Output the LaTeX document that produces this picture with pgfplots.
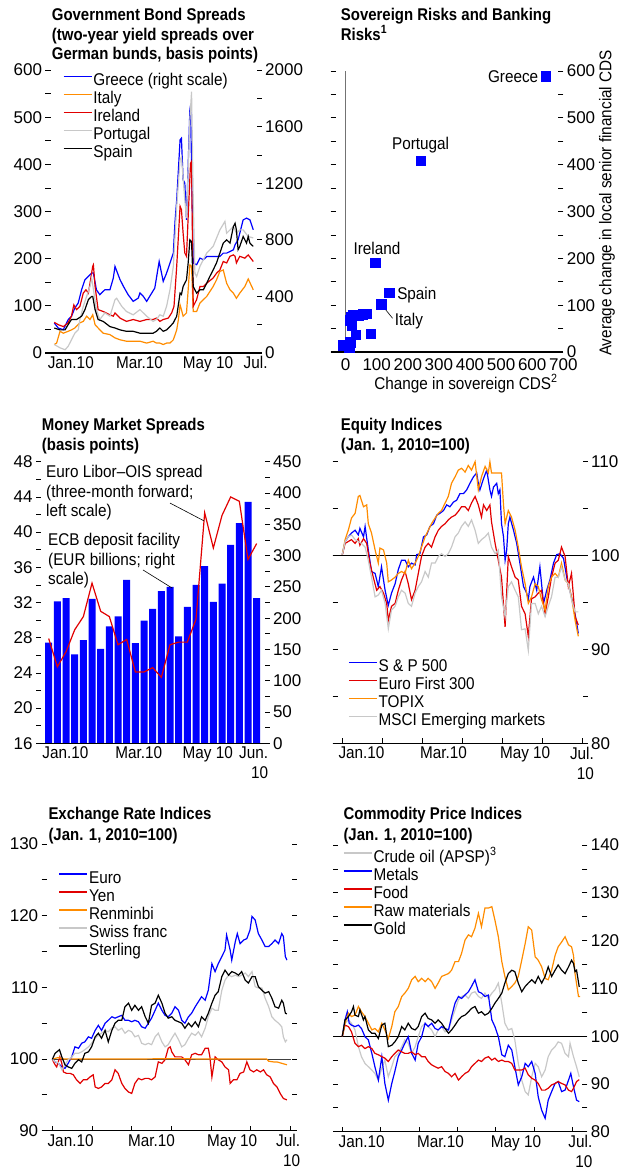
\documentclass[border=0pt]{standalone}
\usepackage{pgfplots}
\pgfplotsset{compat=1.18}
\usepackage{fontspec}
\setmainfont{Liberation Sans}[FakeStretch=0.9]
\newfontfamily\numfont{Liberation Sans}
\newfontfamily\titlefont{Liberation Sans}[FakeStretch=0.88]
\newcommand\fs{\fontsize{17bp}{18bp}\selectfont}
\newcommand\fsx{\fontsize{17bp}{20bp}\selectfont}
\definecolor{cblue}{RGB}{0,0,255}
\definecolor{corange}{RGB}{255,140,0}
\definecolor{cred}{RGB}{225,0,0}
\definecolor{cgray}{RGB}{200,200,200}
\tikzset{bline/.style={black, line width=1.2bp}}
\pgfplotsset{
 imf/.style={
  scale only axis, anchor=south west, clip=false,
  axis line style={draw=none},
  tick align=inside, major tick length=5bp, minor tick length=5bp,
  tick style={black, line width=0.8bp},
  /pgf/number format/assume math mode=true,
  /pgf/number format/1000 sep={},
  scaled ticks=false,
  yticklabel style={font=\numfont\fs},
  xticklabel style={font=\fsx, align=center},
  major x tick style={draw=none},
  xtick pos=left,
  every axis plot/.append style={line width=1.2bp},
  legend style={draw=none, fill=none, font=\fs, inner sep=0pt, row sep=0pt,
     cells={anchor=west}, nodes={inner sep=0pt, inner xsep=1bp, text height=12.5bp, text depth=5.5bp}},
  legend image code/.code={\draw[##1, line width=1.4bp] (0bp,5.5bp) -- (28bp,5.5bp);},
 },
}
\begin{document}
\begin{tikzpicture}
\path[use as bounding box] (0,0) rectangle (623bp,-1174bp);
% ---------------- Titles
\begin{scope}[every node/.style={anchor=base west, font=\titlefont\bfseries\fs, inner sep=0pt}]
\node at (51.7bp,-20.7bp) {Government Bond Spreads};
\node at (51.7bp,-40bp) {(two-year yield spreads over};
\node at (51.7bp,-59.3bp) {German bunds, basis points)};
\node at (340.7bp,-20.7bp) {Sovereign Risks and Banking};
\node at (340.7bp,-40bp) {Risks\textsuperscript{1}};
\node at (41.7bp,-430.7bp) {Money Market Spreads};
\node at (41.7bp,-450bp) {(basis points)};
\node at (340.7bp,-430.7bp) {Equity Indices};
\node at (340.7bp,-450bp) {(Jan. 1, 2010=100)};
\node at (48.3bp,-819.3bp) {Exchange Rate Indices};
\node at (48.3bp,-840bp) {(Jan. 1, 2010=100)};
\node at (343.3bp,-819.3bp) {Commodity Price Indices};
\node at (343.3bp,-840bp) {(Jan. 1, 2010=100)};
\end{scope}

% ---------------- Panel 1: left scale (data)
\begin{axis}[imf, at={(45.5bp,-353bp)}, width=216.2bp, height=283bp,
  xmin=-0.26, xmax=6.15, ymin=0, ymax=600,
  xtick={0.49,2.53,4.56,5.97}, xticklabels={Jan.10,Mar.10,May 10,Jul.},
  ytick={0,100,...,600}, minor ytick={50,150,...,550}, ytick pos=left]
\draw[bline] (rel axis cs:0,0) -- (rel axis cs:1,0);
% Greece values are on the right scale (0-2000); 600/2000 = 0.3 maps them onto this axis
\addplot[cblue, y filter/.expression={0.3*y}] coordinates {(0,212)(0.12,176)(0.27,165)(0.41,235)(0.51,259)(0.61,318)(0.71,353)(0.81,447)(0.91,518)(1.01,541)(1.11,565)(1.16,565)(1.25,447)(1.35,412)(1.50,447)(1.65,447)(1.75,529)(1.80,612)(1.95,518)(2.05,471)(2.19,412)(2.34,365)(2.49,388)(2.54,424)(2.64,400)(2.74,365)(2.89,424)(2.98,459)(3.11,647)(3.23,506)(3.33,565)(3.43,635)(3.53,706)(3.58,929)(3.63,1082)(3.73,1506)(3.77,1518)(3.82,1224)(3.87,1200)(3.92,941)(4.02,1718)(4.04,1750)(4.12,635)(4.22,624)(4.32,671)(4.42,659)(4.52,682)(4.71,682)(4.91,682)(5.01,706)(5.11,706)(5.31,729)(5.36,765)(5.45,800)(5.60,941)(5.70,953)(5.80,941)(5.90,871)};
\addplot[corange] coordinates {(0,18)(0.07,21)(0.17,46)(0.27,42)(0.41,46)(0.51,49)(0.61,53)(0.76,64)(0.86,67)(0.96,78)(1.06,71)(1.14,81)(1.21,60)(1.30,53)(1.45,42)(1.65,39)(1.80,32)(1.95,28)(2.14,25)(2.34,25)(2.54,25)(2.74,21)(2.93,25)(3.03,21)(3.13,21)(3.23,18)(3.33,21)(3.43,21)(3.53,28)(3.63,49)(3.68,71)(3.73,102)(3.77,92)(3.82,78)(3.92,85)(3.97,134)(4.02,187)(4.07,184)(4.12,88)(4.22,88)(4.32,106)(4.42,113)(4.52,120)(4.71,141)(4.81,155)(4.91,173)(5.01,176)(5.11,148)(5.21,134)(5.31,127)(5.40,116)(5.50,127)(5.65,141)(5.75,157)(5.90,134)};
\addplot[cred] coordinates {(0,65)(0.12,60)(0.27,56)(0.41,64)(0.51,78)(0.58,102)(0.66,92)(0.76,99)(0.86,127)(0.94,134)(1.01,127)(1.06,148)(1.14,184)(1.16,187)(1.21,141)(1.30,92)(1.45,88)(1.65,81)(1.75,78)(1.80,85)(1.95,74)(2.14,67)(2.34,71)(2.54,67)(2.74,71)(2.93,71)(3.03,74)(3.13,67)(3.23,71)(3.38,74)(3.48,85)(3.55,99)(3.63,184)(3.73,311)(3.77,304)(3.82,254)(3.87,212)(3.92,205)(3.97,289)(4.04,402)(4.07,406)(4.12,99)(4.22,113)(4.32,141)(4.42,141)(4.52,148)(4.71,159)(4.81,169)(4.91,176)(5.01,194)(5.11,191)(5.21,205)(5.31,208)(5.36,205)(5.40,191)(5.50,205)(5.65,201)(5.75,208)(5.90,194)};
\addplot[cgray] coordinates {(0,18)(0.17,11)(0.32,7)(0.41,14)(0.51,28)(0.61,42)(0.71,49)(0.76,71)(0.86,99)(0.96,120)(1.06,141)(1.11,159)(1.25,92)(1.35,71)(1.50,85)(1.65,78)(1.80,113)(1.85,116)(2.00,99)(2.14,88)(2.34,81)(2.54,92)(2.74,78)(2.93,67)(3.03,71)(3.13,81)(3.23,78)(3.33,99)(3.43,134)(3.53,184)(3.63,311)(3.73,409)(3.77,416)(3.87,325)(3.92,286)(4.02,494)(4.07,554)(4.12,325)(4.17,169)(4.22,162)(4.32,184)(4.52,212)(4.71,226)(4.91,261)(5.06,279)(5.11,254)(5.21,261)(5.31,268)(5.40,254)(5.50,261)(5.60,261)(5.75,247)(5.90,244)};
\addplot[black] coordinates {(0,53)(0.17,49)(0.32,49)(0.41,60)(0.51,71)(0.66,71)(0.81,78)(0.91,92)(1.01,113)(1.11,120)(1.14,120)(1.21,92)(1.30,71)(1.45,67)(1.65,56)(1.80,53)(1.95,49)(2.14,46)(2.34,46)(2.54,42)(2.74,42)(2.93,42)(3.03,46)(3.13,53)(3.23,46)(3.33,49)(3.43,56)(3.53,64)(3.63,78)(3.73,127)(3.77,124)(3.82,141)(3.92,155)(3.97,191)(4.02,240)(4.07,236)(4.12,141)(4.22,127)(4.32,134)(4.42,134)(4.52,148)(4.61,162)(4.71,176)(4.81,191)(4.91,212)(5.01,233)(5.11,240)(5.21,233)(5.31,268)(5.36,275)(5.40,261)(5.45,219)(5.50,226)(5.60,247)(5.70,233)(5.75,247)(5.80,233)(5.90,226)};
\end{axis}
% ---------------- Panel 1: right scale (ticks, month ticks, legend)
\begin{axis}[imf, at={(45.5bp,-353bp)}, width=216.2bp, height=283bp,
  xmin=-0.26, xmax=6.15, ymin=0, ymax=2000, xtick=\empty,
  minor xtick={0,...,6}, minor x tick style={yshift=-5bp},
  ytick={0,400,...,2000}, minor ytick={200,600,...,1800}, ytick pos=right, yticklabel pos=right,
  legend style={at={(axis description cs:0.08,0.99)}, anchor=north west}]
\addlegendimage{color=cblue}\addlegendentry{Greece (right scale)}
\addlegendimage{color=corange}\addlegendentry{Italy}
\addlegendimage{color=cred}\addlegendentry{Ireland}
\addlegendimage{color=cgray}\addlegendentry{Portugal}
\addlegendimage{color=black}\addlegendentry{Spain}
\end{axis}

% ---------------- Panel 2: scatter
\begin{axis}[imf, at={(330.7bp,-352bp)}, width=232.6bp, height=281bp,
  xmin=-48, xmax=700, ymin=0, ymax=600,
  xtick={0,100,...,700}, xticklabel style={font=\numfont\fs, yshift=-3bp},
  ytick={0,100,...,600}, minor ytick={50,150,...,550}, ytick pos=both, yticklabel pos=right]
\draw[bline] (rel axis cs:0,0) -- (rel axis cs:1,0);
\draw[black!55, line width=1.2bp] (axis cs:0,0) -- (axis cs:0,600);
\addplot[only marks, mark=square*, mark size=4.8bp, mark options={fill=cblue, draw=cblue, line width=0.3bp}] coordinates {(643,589)(241,409)(94,191)(139,127)(114,102)(24.7,78.3)(54.7,80.4)(65.4,81.9)(13.9,67.6)(19.3,56.9)(32.2,37.0)(80.4,39.1)(11.8,10.7)(-7.5,14.2)(13.9,21.4)(40.7,78.3)(17.1,74.7)};
\node[font=\fs, anchor=east, inner sep=0pt] at (axis cs:620,589) {Greece};
\node[font=\fs, inner sep=0pt] at (axis cs:241,442) {Portugal};
\node[font=\fs, inner sep=0pt] at (axis cs:100.6,221) {Ireland};
\node[font=\fs, inner sep=0pt] at (axis cs:229,122) {Spain};
\node[font=\fs, inner sep=0pt] at (axis cs:203.5,66) {Italy};
\draw[black, line width=0.6bp] (axis cs:119,98.3) -- (axis cs:151,72);
\end{axis}
\node[font=\fs, anchor=base] at (466bp,-389bp) {Change in sovereign CDS\textsuperscript{2}};
\node[font=\fs, rotate=90] at (607bp,-203bp) {Average change in local senior financial CDS};

% ---------------- Panel 3: bars (right scale)
\begin{axis}[imf, at={(36bp,-743.3bp)}, width=233.5bp, height=281.6bp,
  xmin=-0.465, xmax=26.48, ymin=0, ymax=450, xtick=\empty,
  ytick={0,50,...,450}, minor ytick={25,75,...,425}, ytick pos=right, yticklabel pos=right]
\addplot[ybar, bar width=7bp, fill=cblue, draw=none] coordinates {(1,161)(2,227)(3,232)(4,142)(5,165)(6,231)(7,151)(8,187)(9,203)(10,261)(11,160)(12,196)(13,215)(14,243)(15,250)(16,171)(17,218)(18,253)(19,283)(20,226)(21,255)(22,317)(23,352)(24,386)(25,232)};
\end{axis}
\begin{axis}[imf, at={(36bp,-743.3bp)}, width=233.5bp, height=281.6bp,
  xmin=-0.465, xmax=26.48, ymin=16, ymax=48,
  xtick={2.92,11.38,19.35,24.65}, xticklabels={Jan.10,Mar.10,May 10,{Jun.\\10}},
  xticklabel style={align=right},
  ytick={16,20,...,48}, minor ytick={18,22,...,46}, ytick pos=left]
\draw[bline] (rel axis cs:0,0) -- (rel axis cs:1,0);
\addplot[cred] coordinates {(1,27.9)(2,24.7)(3,26.4)(4,28.9)(5,30.4)(6,34.2)(7,31.0)(8,30.4)(9,27.2)(10,27.8)(11,24.1)(12,24.1)(13,24.6)(14,23.5)(15,27.2)(16,27.5)(17,27.5)(18,30.1)(19,42.2)(20,38.2)(21,41.9)(22,44.0)(23,43.5)(24,36.9)(25,38.7)};
\draw[black, line width=0.6bp] (axis cs:15.0,43.3) -- (axis cs:18.92,41.28);
\draw[black, line width=0.6bp] (axis cs:11.88,35.7) -- (axis cs:15.23,33.65);
\end{axis}
\node[anchor=north west, align=left, inner sep=0pt, font=\fontsize{17bp}{19.5bp}\selectfont] at (46bp,-465bp) {Euro Libor–OIS spread\\(three-month forward;\\left scale)};
\node[anchor=north west, align=left, inner sep=0pt, font=\fontsize{17bp}{19.5bp}\selectfont] at (48bp,-533bp) {ECB deposit facility\\(EUR billions; right\\scale)};

% ---------------- Panel 4: equity
\begin{axis}[imf, at={(332.7bp,-743.3bp)}, width=255bp, height=281.6bp,
  xmin=-0.24, xmax=6.135, ymin=80, ymax=110,
  xtick={0.48,2.53,4.57,5.99}, xticklabels={Jan.10,Mar.10,May 10,{Jul.\\10}},
  xticklabel style={align=right},
  minor xtick={0,...,6},
  ytick={80,90,100,110}, minor ytick={85,95,105}, ytick pos=both, yticklabel pos=right,
  legend style={at={(axis description cs:0.06,0.30)}, anchor=north west}]
\draw[bline] (rel axis cs:0,0) -- (rel axis cs:1,0);
\draw[black, line width=1bp] (axis cs:-0.24,100) -- (axis cs:6.135,100);
\addplot[cblue] coordinates {(0,100.1)(0.07,101.5)(0.15,102.0)(0.23,102.4)(0.32,102.7)(0.40,102.2)(0.44,102.9)(0.53,102.0)(0.57,103.1)(0.65,100.6)(0.73,98.3)(0.82,98.1)(0.90,96.7)(0.98,98.8)(1.07,96.3)(1.15,94.7)(1.23,96.0)(1.32,97.0)(1.40,98.5)(1.48,99.5)(1.57,99.5)(1.65,98.8)(1.73,99.2)(1.82,99.0)(1.86,100.1)(1.94,100.2)(2.03,102.0)(2.11,102.2)(2.19,103.1)(2.28,103.4)(2.36,104.3)(2.44,104.5)(2.53,104.8)(2.61,105.4)(2.69,105.2)(2.78,105.7)(2.86,105.9)(2.94,106.6)(3.03,106.6)(3.11,107.0)(3.19,107.7)(3.28,108.4)(3.36,108.8)(3.40,107.7)(3.44,107.0)(3.53,108.2)(3.61,109.1)(3.69,107.0)(3.73,106.3)(3.78,107.3)(3.86,107.7)(3.90,106.6)(3.94,107.0)(3.98,103.4)(4.03,102.0)(4.07,99.5)(4.11,100.6)(4.15,103.4)(4.19,104.1)(4.28,102.7)(4.36,101.3)(4.44,99.2)(4.53,96.7)(4.61,96.0)(4.65,95.3)(4.69,96.7)(4.78,97.7)(4.86,96.3)(4.94,98.8)(5.03,94.9)(5.11,96.3)(5.19,97.4)(5.28,99.2)(5.36,100.1)(5.44,100.2)(5.53,99.7)(5.61,97.7)(5.69,96.3)(5.78,94.6)(5.86,92.8)(5.90,91.7)};
\addlegendentry{S \& P 500}
\addplot[cred] coordinates {(0,100.1)(0.07,101.3)(0.15,101.5)(0.23,101.7)(0.32,101.3)(0.40,101.8)(0.44,101.1)(0.53,101.8)(0.61,101.3)(0.69,99.2)(0.78,97.6)(0.86,96.3)(0.94,96.7)(1.03,96.0)(1.11,94.9)(1.15,93.1)(1.23,94.6)(1.32,94.9)(1.40,96.3)(1.48,97.4)(1.57,98.3)(1.65,97.0)(1.73,95.3)(1.82,96.3)(1.90,98.1)(1.98,99.9)(2.07,100.9)(2.15,101.3)(2.23,100.9)(2.32,102.0)(2.40,102.7)(2.48,103.1)(2.57,103.4)(2.65,103.8)(2.73,104.1)(2.82,104.3)(2.90,104.7)(2.98,105.2)(3.07,105.2)(3.15,104.8)(3.23,105.6)(3.32,106.3)(3.40,105.4)(3.48,104.1)(3.53,105.4)(3.61,104.8)(3.69,105.4)(3.73,103.6)(3.82,101.3)(3.90,99.5)(3.98,97.7)(4.07,92.4)(4.15,99.9)(4.23,98.8)(4.32,97.7)(4.40,97.4)(4.48,94.6)(4.57,93.8)(4.65,91.4)(4.73,95.4)(4.82,95.6)(4.90,96.0)(4.98,96.3)(5.07,93.8)(5.15,95.6)(5.23,97.7)(5.32,99.2)(5.40,99.5)(5.48,100.9)(5.57,99.9)(5.65,96.7)(5.73,98.1)(5.78,95.6)(5.82,93.5)(5.90,92.6)};
\addlegendentry{Euro First 300}
\addplot[corange] coordinates {(0,100.1)(0.07,101.7)(0.15,102.7)(0.23,104.0)(0.32,104.5)(0.40,106.3)(0.44,106.4)(0.53,105.2)(0.61,105.4)(0.65,103.4)(0.73,102.4)(0.82,100.6)(0.90,99.2)(0.94,100.8)(1.03,100.6)(1.11,99.2)(1.15,97.2)(1.23,97.4)(1.32,97.7)(1.40,98.1)(1.48,98.3)(1.57,98.1)(1.65,99.5)(1.73,98.6)(1.82,99.2)(1.90,99.9)(1.98,100.9)(2.07,102.0)(2.15,102.7)(2.23,103.4)(2.32,104.0)(2.40,104.5)(2.48,104.8)(2.57,105.6)(2.65,106.3)(2.73,107.7)(2.82,108.4)(2.90,109.1)(2.98,109.3)(3.07,108.9)(3.15,109.6)(3.23,109.1)(3.32,110.0)(3.40,107.0)(3.48,108.4)(3.57,109.5)(3.65,108.8)(3.69,110.0)(3.73,108.8)(3.82,108.8)(3.98,108.8)(4.03,105.4)(4.07,103.4)(4.15,104.8)(4.23,104.1)(4.32,102.7)(4.40,100.9)(4.48,98.8)(4.57,97.0)(4.65,94.9)(4.73,95.6)(4.82,97.0)(4.90,96.7)(4.98,95.3)(5.07,94.2)(5.15,96.7)(5.23,97.7)(5.32,98.1)(5.40,97.7)(5.48,99.2)(5.57,97.4)(5.65,97.0)(5.73,95.6)(5.82,93.1)(5.90,91.4)};
\addlegendentry{TOPIX}
\addplot[cgray] coordinates {(0,100.1)(0.07,101.5)(0.15,102.0)(0.23,102.2)(0.32,101.7)(0.40,101.5)(0.48,101.3)(0.57,100.9)(0.65,99.5)(0.73,97.7)(0.82,95.6)(0.90,95.8)(0.98,96.3)(1.07,94.9)(1.15,92.2)(1.23,94.2)(1.32,94.6)(1.40,95.6)(1.48,96.3)(1.57,96.0)(1.65,94.9)(1.73,94.6)(1.82,96.0)(1.90,96.7)(1.98,97.2)(2.07,98.3)(2.15,97.7)(2.23,99.2)(2.32,99.2)(2.40,99.9)(2.48,100.2)(2.57,99.9)(2.65,100.2)(2.73,100.9)(2.82,102.0)(2.90,102.4)(2.98,103.1)(3.07,103.6)(3.15,103.1)(3.23,103.8)(3.32,102.7)(3.40,101.3)(3.48,101.7)(3.57,102.0)(3.65,102.4)(3.73,100.9)(3.82,100.2)(3.90,100.6)(3.98,95.6)(4.07,93.5)(4.15,96.7)(4.23,97.2)(4.32,96.3)(4.40,95.6)(4.48,92.1)(4.57,92.2)(4.65,89.9)(4.73,94.9)(4.82,94.9)(4.90,93.8)(4.98,94.6)(5.07,93.5)(5.15,94.6)(5.23,95.6)(5.32,97.7)(5.40,97.7)(5.48,98.8)(5.57,97.4)(5.65,97.0)(5.73,95.3)(5.82,94.0)(5.90,94.0)};
\addlegendentry{MSCI Emerging markets}
\end{axis}

% ---------------- Panel 5: exchange rates
\begin{axis}[imf, at={(41.7bp,-1130.7bp)}, width=255bp, height=286.7bp,
  xmin=-0.267, xmax=6.156, ymin=90, ymax=130,
  xtick={0.46,2.5,4.53,5.94}, xticklabels={Jan.10,Mar.10,May 10,{Jul.\\10}},
  xticklabel style={align=right},
  minor xtick={0,...,6},
  ytick={90,100,...,130}, minor ytick={95,105,115,125}, ytick pos=both, yticklabel pos=left,
  legend style={at={(axis description cs:0.066,0.908)}, anchor=north west}]
\draw[bline] (rel axis cs:0,0) -- (rel axis cs:1,0);
\draw[black!75, line width=1bp] (axis cs:-0.02,100) -- (axis cs:6,100);
\addplot[cblue] coordinates {(0,99.95)(0.07,99.6)(0.15,99.4)(0.24,98.9)(0.32,98.7)(0.40,99.4)(0.49,100.3)(0.57,101.7)(0.66,101.5)(0.74,102.2)(0.82,102.4)(0.91,103.1)(0.99,102.9)(1.08,104.0)(1.16,104.7)(1.24,104.0)(1.33,105.0)(1.41,105.4)(1.50,105.9)(1.58,105.7)(1.66,105.9)(1.75,106.1)(1.83,105.4)(1.92,105.4)(2.00,105.2)(2.08,105.4)(2.17,105.2)(2.25,104.5)(2.34,104.3)(2.42,105.0)(2.50,105.7)(2.59,106.8)(2.67,107.8)(2.76,106.8)(2.84,106.1)(2.92,105.9)(3.01,106.4)(3.09,107.3)(3.18,106.8)(3.26,105.4)(3.34,105.0)(3.43,105.9)(3.51,106.4)(3.60,107.3)(3.68,108.0)(3.76,108.7)(3.85,108.2)(3.93,109.6)(4.02,113.3)(4.10,112.2)(4.18,113.3)(4.27,114.3)(4.35,115.2)(4.39,117.3)(4.48,115.2)(4.52,113.8)(4.61,116.4)(4.66,117.5)(4.73,116.1)(4.82,116.6)(4.90,116.8)(4.98,118.0)(5.03,119.9)(5.11,119.4)(5.19,117.5)(5.28,116.6)(5.36,115.7)(5.45,115.7)(5.53,116.1)(5.61,116.6)(5.70,116.1)(5.78,117.5)(5.82,117.1)(5.87,114.3)(5.91,113.8)};
\addlegendentry{Euro}
\addplot[cred] coordinates {(0,99.95)(0.07,99.2)(0.11,98.9)(0.19,100.3)(0.24,99.4)(0.28,98.2)(0.36,98.0)(0.45,98.0)(0.53,97.8)(0.61,97.1)(0.70,96.6)(0.78,97.1)(0.87,97.1)(0.95,97.5)(1.03,97.8)(1.08,96.1)(1.16,95.9)(1.24,96.1)(1.33,96.6)(1.41,96.6)(1.50,97.1)(1.58,98.5)(1.66,98.0)(1.75,96.6)(1.83,95.9)(1.92,95.4)(2.00,95.2)(2.08,96.6)(2.17,97.3)(2.25,97.1)(2.34,97.3)(2.42,97.3)(2.50,97.1)(2.59,97.5)(2.67,99.6)(2.76,99.4)(2.84,99.9)(2.92,101.5)(2.97,101.7)(3.01,101.0)(3.09,100.3)(3.18,100.3)(3.26,100.3)(3.34,99.9)(3.43,99.2)(3.51,100.6)(3.60,100.8)(3.68,100.6)(3.76,100.6)(3.85,101.5)(3.93,101.5)(3.97,100.3)(4.02,97.5)(4.06,98.9)(4.10,100.3)(4.18,99.9)(4.27,99.6)(4.35,98.9)(4.44,98.5)(4.48,96.6)(4.56,97.1)(4.65,97.1)(4.73,98.0)(4.82,98.2)(4.90,99.6)(4.98,98.5)(5.07,98.2)(5.15,98.5)(5.24,98.2)(5.32,98.5)(5.40,97.8)(5.49,97.5)(5.57,96.6)(5.66,96.1)(5.74,95.2)(5.82,94.5)(5.91,94.3)};
\addlegendentry{Yen}
\addplot[corange] coordinates {(0,100)(0.15,100.2)(0.3,100)(1,100)(2,100)(3,100.05)(4,100)(5,100)(5.40,100)(5.45,99.7)(5.57,99.6)(5.66,99.6)(5.78,99.4)(5.91,99.2)};
\addlegendentry{Renminbi}
\addplot[cgray] coordinates {(0,99.95)(0.07,99.6)(0.15,99.5)(0.24,98.5)(0.32,99.2)(0.40,99.9)(0.49,100.3)(0.57,100.8)(0.66,100.8)(0.74,101.0)(0.82,101.3)(0.91,101.7)(0.99,102.2)(1.08,102.9)(1.16,103.3)(1.24,103.6)(1.33,104.0)(1.41,103.8)(1.50,104.3)(1.58,104.5)(1.66,104.0)(1.75,104.3)(1.83,103.6)(1.92,104.0)(2.00,103.8)(2.08,103.1)(2.17,103.3)(2.25,102.2)(2.34,102.0)(2.42,102.2)(2.50,102.0)(2.59,103.1)(2.67,103.6)(2.76,102.4)(2.84,101.7)(2.92,102.0)(3.01,102.9)(3.09,103.6)(3.18,102.7)(3.26,101.7)(3.34,102.0)(3.43,102.9)(3.51,103.6)(3.60,103.3)(3.68,103.8)(3.76,103.1)(3.85,104.3)(3.93,105.9)(4.02,107.1)(4.10,106.8)(4.18,106.8)(4.27,109.6)(4.35,111.0)(4.44,111.7)(4.52,111.5)(4.61,111.7)(4.69,111.5)(4.77,111.7)(4.86,112.0)(4.94,111.5)(5.03,112.2)(5.11,110.1)(5.19,109.9)(5.28,109.9)(5.36,108.5)(5.45,107.3)(5.53,105.9)(5.61,105.4)(5.70,105.0)(5.78,104.5)(5.82,103.1)(5.87,102.4)(5.91,102.7)};
\addlegendentry{Swiss franc}
\addplot[black] coordinates {(0,99.95)(0.07,100.8)(0.18,101.3)(0.24,100.3)(0.32,99.2)(0.40,98.9)(0.49,98.7)(0.57,99.4)(0.66,99.9)(0.74,99.6)(0.82,100.8)(0.91,101.0)(0.99,101.7)(1.08,103.1)(1.16,103.6)(1.24,102.9)(1.33,104.0)(1.41,102.4)(1.50,104.0)(1.58,105.0)(1.66,105.4)(1.75,105.4)(1.83,107.3)(1.92,107.8)(2.00,106.8)(2.08,107.5)(2.17,106.8)(2.25,107.3)(2.34,105.9)(2.42,105.0)(2.50,107.5)(2.59,107.8)(2.67,108.9)(2.76,107.8)(2.84,106.4)(2.92,105.7)(3.01,105.9)(3.09,105.4)(3.18,105.2)(3.26,105.0)(3.34,104.3)(3.43,105.0)(3.51,104.5)(3.60,105.2)(3.68,104.5)(3.76,105.9)(3.85,105.4)(3.93,106.4)(4.02,107.8)(4.10,108.9)(4.18,109.4)(4.27,111.5)(4.35,112.4)(4.44,111.7)(4.52,112.2)(4.61,112.0)(4.69,111.7)(4.77,112.2)(4.86,111.0)(4.94,110.6)(5.03,111.5)(5.11,111.5)(5.19,110.1)(5.28,109.6)(5.36,109.2)(5.45,109.4)(5.53,108.5)(5.61,107.3)(5.70,107.1)(5.78,108.2)(5.82,107.8)(5.87,106.4)(5.91,106.3)};
\addlegendentry{Sterling}
\end{axis}

% ---------------- Panel 6: commodities
\begin{axis}[imf, at={(333.3bp,-1131.7bp)}, width=254bp, height=286.7bp,
  xmin=-0.235, xmax=6.39, ymin=80, ymax=140,
  xtick={0.505,2.56,4.53,6.21}, xticklabels={Jan.10,Mar.10,May 10,{Jul.\\10}},
  xticklabel style={align=right},
  minor xtick={0,...,6},
  ytick={80,90,...,140}, minor ytick={85,95,...,135}, ytick pos=both, yticklabel pos=right,
  legend style={at={(axis description cs:0.038,0.985)}, anchor=north west}]
\draw[bline] (rel axis cs:0,0) -- (rel axis cs:1,0);
\draw[black, line width=1bp] (axis cs:-0.235,100) -- (axis cs:6.39,100);
\addplot[cgray] coordinates {(0,100.0)(0.07,102.7)(0.16,103.4)(0.24,102.7)(0.33,101.3)(0.42,97.8)(0.50,95.7)(0.59,94.3)(0.68,93.6)(0.77,92.9)(0.85,92.2)(0.94,90.8)(1.03,93.3)(1.11,95.0)(1.20,91.5)(1.29,93.6)(1.37,95.7)(1.46,96.4)(1.55,97.8)(1.63,99.2)(1.72,98.5)(1.81,96.4)(1.90,97.8)(1.98,99.9)(2.07,102.0)(2.16,102.7)(2.24,102.0)(2.33,101.3)(2.42,99.9)(2.50,101.3)(2.59,102.0)(2.68,100.9)(2.77,101.3)(2.85,103.4)(2.94,105.5)(3.03,107.6)(3.11,108.3)(3.20,108.6)(3.29,107.9)(3.37,109.0)(3.46,109.3)(3.55,108.3)(3.63,107.9)(3.72,109.0)(3.81,107.9)(3.90,109.0)(3.98,109.7)(4.07,111.1)(4.16,106.9)(4.24,102.7)(4.33,101.3)(4.42,101.6)(4.50,99.2)(4.59,94.3)(4.68,90.8)(4.77,88.4)(4.85,87.7)(4.94,91.5)(5.03,94.3)(5.11,93.6)(5.20,91.5)(5.29,92.9)(5.37,95.7)(5.46,97.1)(5.55,97.8)(5.63,98.8)(5.72,98.5)(5.81,96.4)(5.90,95.7)(5.94,98.5)(6.03,95.7)(6.11,93.6)(6.18,91.5)};
\addlegendentry{Crude oil (APSP)\textsuperscript{3}}
\addplot[cblue] coordinates {(0,100.0)(0.07,103.4)(0.13,105.1)(0.18,102.7)(0.24,102.3)(0.33,102.0)(0.42,102.3)(0.50,101.6)(0.59,99.9)(0.68,99.2)(0.77,96.4)(0.85,93.6)(0.94,90.8)(1.03,95.7)(1.11,90.1)(1.20,86.6)(1.29,90.1)(1.37,92.6)(1.46,95.7)(1.55,97.1)(1.63,98.5)(1.72,99.9)(1.81,96.4)(1.90,95.0)(1.98,98.5)(2.07,99.9)(2.16,102.7)(2.24,102.0)(2.33,102.7)(2.42,101.6)(2.50,101.3)(2.59,102.0)(2.68,101.6)(2.77,101.3)(2.85,104.1)(2.94,106.9)(3.03,108.3)(3.11,107.9)(3.20,108.6)(3.29,109.3)(3.37,110.4)(3.46,111.8)(3.55,109.3)(3.63,109.0)(3.72,108.3)(3.81,108.6)(3.90,103.4)(3.98,102.0)(4.07,99.9)(4.16,96.1)(4.24,95.7)(4.33,98.1)(4.42,97.1)(4.50,93.6)(4.59,89.8)(4.68,91.5)(4.77,94.3)(4.85,93.6)(4.94,94.7)(5.03,92.2)(5.11,87.3)(5.20,84.5)(5.29,82.8)(5.37,86.6)(5.46,88.4)(5.55,90.1)(5.63,90.5)(5.72,88.4)(5.81,88.7)(5.90,90.8)(5.96,92.2)(6.03,89.4)(6.11,86.6)(6.18,86.3)};
\addlegendentry{Metals}
\addplot[cred] coordinates {(0,100.0)(0.07,102.3)(0.16,102.0)(0.24,100.9)(0.33,98.5)(0.42,97.8)(0.50,98.1)(0.59,97.4)(0.68,97.8)(0.77,97.4)(0.85,96.4)(0.94,96.1)(1.03,95.7)(1.11,95.4)(1.20,94.7)(1.29,95.7)(1.37,96.4)(1.46,97.1)(1.55,96.7)(1.63,96.4)(1.72,96.4)(1.81,96.7)(1.90,96.1)(1.98,96.4)(2.07,95.7)(2.16,95.7)(2.24,94.7)(2.33,94.0)(2.42,93.6)(2.50,93.3)(2.59,93.6)(2.68,92.6)(2.77,92.2)(2.85,91.5)(2.94,92.2)(3.03,90.8)(3.11,91.5)(3.20,92.2)(3.29,92.6)(3.37,93.6)(3.46,94.3)(3.55,95.0)(3.63,94.7)(3.72,95.4)(3.81,95.7)(3.90,95.0)(3.98,95.4)(4.07,94.7)(4.16,95.0)(4.24,94.7)(4.33,94.7)(4.42,94.3)(4.50,92.9)(4.59,92.9)(4.68,92.9)(4.77,93.3)(4.85,91.9)(4.94,91.2)(5.03,90.8)(5.11,90.1)(5.20,88.7)(5.29,88.7)(5.37,89.1)(5.46,89.8)(5.55,90.1)(5.63,90.5)(5.72,90.1)(5.81,89.8)(5.90,88.7)(5.98,88.4)(6.03,89.1)(6.11,90.5)(6.18,90.9)};
\addlegendentry{Food}
\addplot[corange] coordinates {(0,100.0)(0.07,102.7)(0.16,104.8)(0.24,104.1)(0.33,104.4)(0.42,106.2)(0.50,105.1)(0.59,104.1)(0.68,102.7)(0.77,101.3)(0.85,101.6)(0.94,100.9)(1.03,102.7)(1.11,101.3)(1.20,99.5)(1.29,102.0)(1.37,105.1)(1.46,106.2)(1.55,108.3)(1.63,109.0)(1.72,110.0)(1.81,111.8)(1.90,112.5)(1.98,111.4)(2.07,112.1)(2.16,111.4)(2.24,112.1)(2.33,111.4)(2.42,110.0)(2.50,111.1)(2.59,112.5)(2.68,112.8)(2.77,113.1)(2.85,113.8)(2.94,115.6)(3.03,115.6)(3.11,117.3)(3.20,120.1)(3.29,121.2)(3.37,120.8)(3.46,122.6)(3.55,125.7)(3.63,122.9)(3.72,126.8)(3.81,126.8)(3.90,127.1)(3.98,124.3)(4.07,120.8)(4.16,115.6)(4.24,112.5)(4.33,109.7)(4.42,110.4)(4.50,111.1)(4.59,112.5)(4.68,115.9)(4.77,119.4)(4.85,122.9)(4.94,122.2)(5.03,116.6)(5.11,115.9)(5.20,114.5)(5.29,112.1)(5.37,111.8)(5.46,113.8)(5.55,116.9)(5.63,118.7)(5.72,119.7)(5.81,120.8)(5.90,119.1)(5.98,118.7)(6.03,116.9)(6.07,113.1)(6.16,108.3)(6.20,108.3)};
\addlegendentry{Raw materials}
\addplot[black] coordinates {(0,100)(0.07,103.4)(0.16,104.1)(0.24,105.1)(0.29,106.2)(0.33,104.4)(0.42,104.1)(0.46,105.5)(0.55,103.4)(0.59,104.1)(0.68,101.3)(0.77,100.6)(0.85,100.6)(0.94,99.5)(1.03,102.3)(1.11,102.7)(1.20,97.8)(1.29,98.1)(1.37,98.8)(1.46,99.9)(1.55,102.0)(1.63,101.3)(1.72,102.7)(1.81,101.6)(1.90,101.3)(1.98,102.0)(2.07,104.1)(2.16,104.8)(2.24,103.7)(2.33,103.4)(2.42,102.7)(2.50,103.4)(2.59,102.7)(2.68,101.6)(2.77,100.6)(2.85,101.3)(2.94,102.3)(3.03,103.4)(3.11,104.1)(3.20,104.4)(3.29,105.1)(3.37,105.8)(3.46,106.2)(3.55,104.8)(3.63,105.1)(3.72,104.4)(3.81,104.8)(3.90,105.8)(3.98,106.9)(4.07,107.9)(4.16,109.0)(4.24,111.1)(4.33,113.1)(4.42,113.8)(4.50,113.5)(4.59,111.1)(4.68,109.3)(4.77,110.4)(4.85,111.1)(4.94,111.8)(5.03,111.1)(5.11,112.5)(5.20,111.1)(5.29,112.5)(5.37,114.5)(5.46,112.5)(5.55,113.8)(5.63,114.9)(5.72,113.8)(5.81,113.1)(5.90,114.5)(5.98,115.9)(6.03,115.2)(6.07,113.5)(6.11,113.8)(6.18,110.3)};
\addlegendentry{Gold}
\end{axis}
\end{tikzpicture}
\end{document}
